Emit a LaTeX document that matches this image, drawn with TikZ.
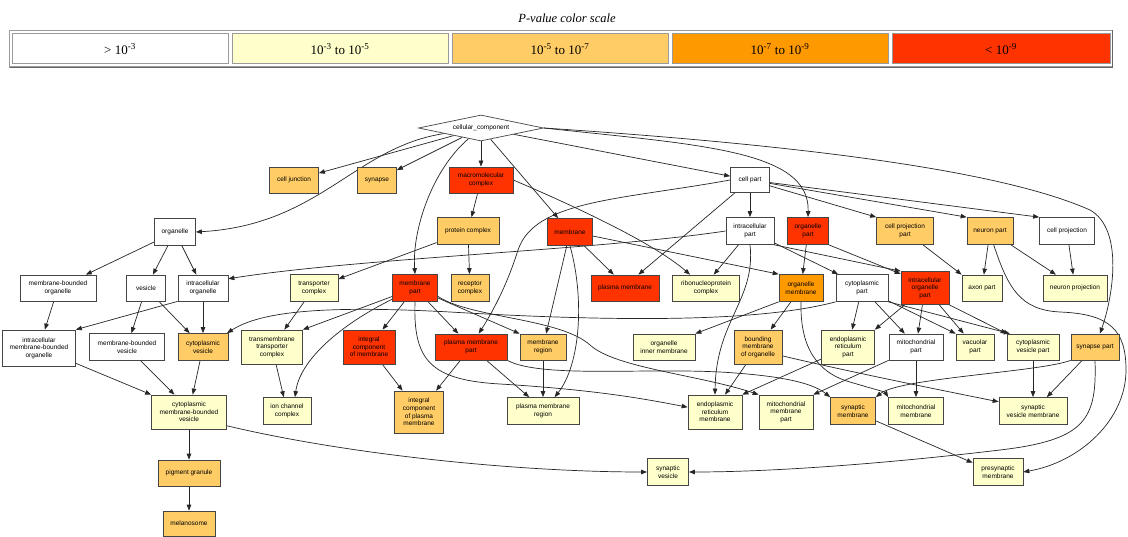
\documentclass[tikz,border=0pt]{standalone}
\usepackage{fontspec}
\setmainfont{Liberation Serif}
\newfontfamily\nodefont{Liberation Sans}
\usetikzlibrary{shapes.geometric,arrows.meta}
\pgfdeclarelayer{bottom}
\pgfdeclarelayer{background}
\pgfsetlayers{bottom,background,main}
\definecolor{cY}{HTML}{FFFFCC}
\definecolor{cO}{HTML}{FFCC66}
\definecolor{cA}{HTML}{FF9900}
\definecolor{cR}{HTML}{FF3300}
\definecolor{bd}{HTML}{454545}
\definecolor{lg}{HTML}{9A9A9A}
\begin{document}
\begin{tikzpicture}[x=1pt,y=-1pt,
  gbox/.style={draw=bd, line width=0.7pt, rectangle, inner sep=0pt, align=center,
    font=\nodefont\fontsize{6.5}{7.6}\selectfont, text=black},
  sz/.style 2 args={minimum width=#1pt, minimum height=#2pt},
  cw/.style={gbox, fill=white}, cy/.style={gbox, fill=cY}, co/.style={gbox, fill=cO},
  ca/.style={gbox, fill=cA}, cr/.style={gbox, fill=cR},
  e/.style={draw=black!85, line width=0.7pt, -{Triangle[length=6pt,width=4.5pt]}},
  legcell/.style={draw=lg, line width=1pt, inner sep=0pt, minimum height=30pt,
    font=\fontsize{13}{15}\selectfont},
]
\useasboundingbox (0,0) rectangle (1128,537);
\begin{pgfonlayer}{bottom}
\fill[white] (0,0) rectangle (1128,537);
\end{pgfonlayer}

% ---------- legend ----------
\node[font=\itshape\fontsize{12.5}{15}\selectfont] (title) at (567,18) {P-value color scale};
\draw[lg, line width=1.2pt] (9.5,30.5) rectangle (1112.5,67);
\draw[black!60, line width=0.6pt] (9.5,67) -- (1112.5,67) -- (1112.5,30.5);
\node[legcell, fill=white, minimum width=216pt] (l1) at (120,49) {> 10\textsuperscript{-3}};
\node[legcell, fill=cY, minimum width=216pt] (l2) at (340,49) {10\textsuperscript{-3} to 10\textsuperscript{-5}};
\node[legcell, fill=cO, minimum width=216pt] (l3) at (560,49) {10\textsuperscript{-5} to 10\textsuperscript{-7}};
\node[legcell, fill=cA, minimum width=216pt] (l4) at (780,49) {10\textsuperscript{-7} to 10\textsuperscript{-9}};
\node[legcell, fill=cR, minimum width=218pt] (l5) at (1001,49) {< 10\textsuperscript{-9}};

% ---------- nodes ----------
\node[shape=diamond, draw=bd, line width=0.7pt, fill=white, inner sep=0pt, aspect=4.8,
  minimum width=125pt, minimum height=26pt, font=\nodefont\fontsize{6.5}{7.6}\selectfont]
  (cc) at (481,128) {cellular\_component};

\node[co, sz={49}{26}] (cj) at (294,180) {cell junction};
\node[co, sz={39}{26}] (syn) at (377,180) {synapse};
\node[cr, sz={64}{26}] (mac) at (481,180) {macromolecular\\complex};
\node[cw, sz={39}{25}] (cp) at (750,180) {cell part};

\node[cw, sz={41}{27}] (org) at (175,232) {organelle};
\node[co, sz={62}{27}] (pc) at (468,231) {protein complex};
\node[cr, sz={45}{27}] (mem) at (570,232) {membrane};
\node[cw, sz={48}{27}] (icp) at (750,231) {intracellular\\part};
\node[cr, sz={41}{27}] (orgp) at (808,231) {organelle\\part};
\node[co, sz={57}{27}] (cpp) at (905,231) {cell projection\\part};
\node[co, sz={46}{27}] (np) at (990,231) {neuron part};
\node[cw, sz={55}{27}] (cpr) at (1067,231) {cell projection};

\node[cw, sz={76}{26}] (mbo) at (58,288) {membrane-bounded\\organelle};
\node[cw, sz={39}{26}] (ves) at (146,288) {vesicle};
\node[cw, sz={50}{26}] (ico) at (203,288) {intracellular\\organelle};
\node[cy, sz={48}{27}] (tc) at (314,288) {transporter\\complex};
\node[cr, sz={45}{27}] (mp) at (415,288) {membrane\\part};
\node[co, sz={38}{27}] (rc) at (470,288) {receptor\\complex};
\node[cr, sz={68}{26}] (pm) at (625,288) {plasma membrane};
\node[cy, sz={67}{26}] (rnp) at (706,288) {ribonucleoprotein\\complex};
\node[ca, sz={44}{27}] (om) at (801,288) {organelle\\membrane};
\node[cw, sz={52}{27}] (cyp) at (862,288) {cytoplasmic\\part};
\node[cr, sz={48}{33}] (iop) at (925,288) {intracellular\\organelle\\part};
\node[cy, sz={40}{26}] (ap) at (982,288) {axon part};
\node[cy, sz={64}{26}] (npr) at (1075,288) {neuron projection};

\node[cw, sz={73}{36}] (imbo) at (39,348) {intracellular\\membrane-bounded\\organelle};
\node[cw, sz={75}{27}] (mbv) at (127,347) {membrane-bounded\\vesicle};
\node[co, sz={50}{27}] (cv) at (203,347) {cytoplasmic\\vesicle};
\node[cy, sz={61}{34}] (ttc) at (272,347) {transmembrane\\transporter\\complex};
\node[cr, sz={52}{34}] (icm) at (369,347) {integral\\component\\of membrane};
\node[cr, sz={72}{26}] (pmp) at (471,347) {plasma membrane\\part};
\node[co, sz={46}{26}] (mr) at (543,347) {membrane\\region};
\node[cy, sz={62}{26}] (oim) at (664,347) {organelle\\inner membrane};
\node[co, sz={48}{34}] (bmo) at (758,347) {bounding\\membrane\\of organelle};
\node[cy, sz={53}{34}] (erp) at (848,347) {endoplasmic\\reticulum\\part};
\node[cw, sz={54}{26}] (mtp) at (916,347) {mitochondrial\\part};
\node[cy, sz={38}{26}] (vp) at (975,347) {vacuolar\\part};
\node[cy, sz={52}{26}] (cvp) at (1033,347) {cytoplasmic\\vesicle part};
\node[co, sz={48}{26}] (sp) at (1095,347) {synapse part};

\node[cy, sz={75}{34}] (cmbv) at (189,412) {cytoplasmic\\membrane-bounded\\vesicle};
\node[cy, sz={48}{27}] (icc) at (287,411) {ion channel\\complex};
\node[co, sz={49}{42}] (icpm) at (419,412) {integral\\component\\of plasma\\membrane};
\node[cy, sz={72}{27}] (pmr) at (543,411) {plasma membrane\\region};
\node[cy, sz={54}{34}] (erm) at (715,412) {endoplasmic\\reticulum\\membrane};
\node[cy, sz={54}{34}] (mmp) at (786,412) {mitochondrial\\membrane\\part};
\node[co, sz={45}{27}] (sm) at (853,411) {synaptic\\membrane};
\node[cy, sz={55}{27}] (mm) at (916,411) {mitochondrial\\membrane};
\node[cy, sz={68}{27}] (svm) at (1033,411) {synaptic\\vesicle membrane};

\node[co, sz={62}{26}] (pg) at (189,473) {pigment granule};
\node[cy, sz={41}{27}] (sv) at (668,472) {synaptic\\vesicle};
\node[cy, sz={50}{27}] (psm) at (998,472) {presynaptic\\membrane};
\node[co, sz={52}{25}] (mel) at (189,523.5) {melanosome};

% ---------- edges ----------
\begin{pgfonlayer}{background}
\draw[e] (cc) -- (cj);
\draw[e] (cc) -- (syn);
\draw[e] (cc) -- (mac);
\draw[e] (cc) -- (mem);
\draw[e] (cc) -- (cp);
\draw[e] (cc) .. controls (355,147) and (320,225) .. (org.east);
\draw[e] (cc) .. controls (432,170) and (412,230) .. (mp.north);
\draw[e] (cc.east) .. controls (700,145) and (810,150) .. (orgp.north);
\draw[e] (cc.east) .. controls (800,145) and (1000,170) .. (1090,210) .. controls (1125,230) and (1112,300) .. (sp.70);

\draw[e] (mac) -- (pc);
\draw[e] (mac.east) .. controls (560,200) and (650,240) .. (rnp.140);

\draw[e] (cp) -- (icp);
\draw[e] (cp) -- (pm.45);
\draw[e] (cp.west) .. controls (620,200) and (535,200) .. (518,250) .. controls (508,282) and (495,308) .. (pmp.60);
\draw[e] (cp) -- (cpp.north west);
\draw[e] (cp) -- (np.north west);
\draw[e] (cp) -- (cpr.north west);

\draw[e] (icp) -- (rnp.60);
\draw[e] (icp.west) .. controls (600,250) and (360,258) .. (ico.20);
\draw[e] (icp) -- (cyp.150);
\draw[e] (icp.south east) -- (iop.north west);
\draw[e] (icp.south) .. controls (756,300) and (716,320) .. (erm.north);
\draw[e] (orgp.south east) -- (iop.150);
\draw[e] (orgp) -- (om);

\draw[e] (mem.-10) -- (om.north west);
\draw[e] (mem) -- (pm.130);
\draw[e] (mem) -- (mr);
\draw[e] (mem.south) .. controls (585,300) and (580,365) .. (pmr.50);

\draw[e] (pc) -- (tc);
\draw[e] (pc) -- (rc);

\draw[e] (org) -- (mbo);
\draw[e] (org) -- (ves);
\draw[e] (org) -- (ico);
\draw[e] (mbo) -- (imbo);
\draw[e] (ico.south west) -- (imbo.north east);
\draw[e] (ves) -- (mbv);
\draw[e] (ves) -- (cv);
\draw[e] (ico) -- (cv);
\draw[e] (cyp.south west) .. controls (760,322) and (620,322) .. (450,312) .. controls (320,305) and (260,312) .. (cv.30);

\draw[e] (imbo) -- (cmbv.north west);
\draw[e] (mbv) -- (cmbv.130);
\draw[e] (cv) -- (cmbv);
\draw[e] (cmbv) -- (pg);
\draw[e] (pg) -- (mel);
\draw[e] (cmbv.-20) .. controls (350,455) and (520,472) .. (sv.west);

\draw[e] (tc) -- (ttc);
\draw[e] (ttc) -- (icc);
\draw[e] (mp) -- (ttc.north east);
\draw[e] (mp) .. controls (340,325) and (300,360) .. (icc.60);
\draw[e] (mp) -- (icm);
\draw[e] (mp) -- (pmp);
\draw[e] (mp) -- (mr.north west);
\draw[e] (mp.south) .. controls (413,360) and (430,380) .. (500,384) .. controls (600,390) and (650,400) .. (erm.170);
\draw[e] (mp.-20) .. controls (470,318) and (560,318) .. (590,345) .. controls (615,368) and (700,375) .. (mmp.north west);

\draw[e] (icm) -- (icpm);
\draw[e] (pmp) -- (icpm);
\draw[e] (pmp) -- (pmr.135);
\draw[e] (mr) -- (pmr);
\draw[e] (pmp.south east) .. controls (540,378) and (640,368) .. (720,372) .. controls (790,376) and (815,385) .. (sm.north west);

\draw[e] (om.south west) -- (oim.north east);
\draw[e] (om) -- (bmo);
\draw[e] (om.south) .. controls (800,345) and (815,372) .. (850,382) .. controls (870,388) and (885,392) .. (mm.north west);
\draw[e] (bmo) -- (erm.60);
\draw[e] (bmo.-20) .. controls (850,372) and (950,392) .. (svm.165);
\draw[e] (erp) -- (erm.north east);
\draw[e] (mtp.south west) -- (mmp.north east);
\draw[e] (mtp) -- (mm);

\draw[e] (cyp) -- (erp);
\draw[e] (cyp) -- (mtp.130);
\draw[e] (cyp) -- (vp.north west);
\draw[e] (cyp.south east) -- (cvp.150);
\draw[e] (iop) -- (erp.north east);
\draw[e] (iop) -- (mtp);
\draw[e] (iop) -- (vp);
\draw[e] (iop.south east) -- (cvp.north west);

\draw[e] (np) -- (ap);
\draw[e] (np) -- (npr.145);
\draw[e] (cpp) -- (ap.north west);
\draw[e] (cpr) -- (npr);

\draw[e] (sp.south west) .. controls (1040,372) and (900,378) .. (sm.north east);
\draw[e] (sp) -- (svm.45);
\draw[e] (cvp) -- (svm);
\draw[e] (sp.south) .. controls (1097,420) and (1085,440) .. (1000,450) .. controls (900,462) and (780,472) .. (sv.east);
\draw[e] (np.-75) .. controls (1008,288) and (1020,310) .. (1060,312) .. controls (1110,314) and (1126,330) .. (1126,370) .. controls (1126,420) and (1080,462) .. (psm.east);
\draw[e] (sm) -- (psm.160);
\end{pgfonlayer}
\end{tikzpicture}
\end{document}
